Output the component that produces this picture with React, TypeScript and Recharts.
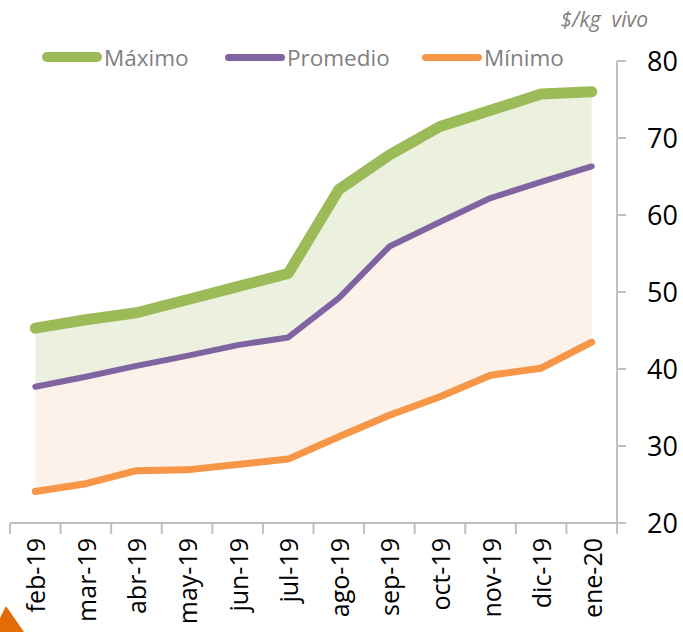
import React from 'react'
import { ComposedChart, Area, Line, XAxis, YAxis } from 'recharts'

const months = ['feb-19', 'mar-19', 'abr-19', 'may-19', 'jun-19', 'jul-19', 'ago-19', 'sep-19', 'oct-19', 'nov-19', 'dic-19', 'ene-20']
const maximo = [45.3, 46.4, 47.3, 49.0, 50.7, 52.4, 63.3, 67.8, 71.5, 73.6, 75.7, 76.0]
const promedio = [37.7, 39.0, 40.4, 41.7, 43.1, 44.1, 49.2, 55.9, 59.1, 62.2, 64.3, 66.3]
const minimo = [24.1, 25.1, 26.8, 26.9, 27.6, 28.3, 31.2, 34.0, 36.4, 39.2, 40.1, 43.5]
const yTicks = [20, 30, 40, 50, 60, 70, 80]

const series = [
  { key: 'max', name: 'Máximo', color: '#9BBB59', width: 11 },
  { key: 'prom', name: 'Promedio', color: '#8064A2', width: 6 },
  { key: 'min', name: 'Mínimo', color: '#F79646', width: 7 },
]

// band edges (integers) get a tick mark, band centres get the month label
const xTicks: number[] = []
for (let i = 0; i <= months.length; i++) {
  xTicks.push(i)
  if (i < months.length) xTicks.push(i + 0.5)
}

const data = months.map((m, i) => ({
  pos: i + 0.5,
  month: m,
  max: maximo[i],
  prom: promedio[i],
  min: minimo[i],
  upperBand: [promedio[i], maximo[i]],
  lowerBand: [minimo[i], promedio[i]],
}))

const FONT = '"Open Sans", sans-serif'
const AXIS = '#BFBFBF'

function MonthTick(props: any) {
  const { x, y, payload } = props
  const v = payload.value
  if (Number.isInteger(v)) {
    return <line x1={x} x2={x} y1={y} y2={y + 11} stroke={AXIS} strokeWidth={2} />
  }
  const ty = y + 15
  return (
    <text
      x={x}
      y={ty}
      transform={`rotate(-90 ${x} ${ty})`}
      textAnchor="end"
      dominantBaseline="central"
      fontFamily={FONT}
      fontSize={25}
      fill="#000"
    >
      {months[Math.floor(v)]}
    </text>
  )
}

const legendPos = [42, 225, 422]

export default function App() {
  return (
    <div style={{ position: 'absolute', left: 0, top: 0, width: 683, height: 632, background: '#fff' }}>
      <ComposedChart width={683} height={632} data={data} margin={{ top: 61, right: 0, bottom: 0, left: 10 }}>
        <XAxis
          dataKey="pos"
          type="number"
          domain={[0, months.length]}
          ticks={xTicks}
          interval={0}
          tickLine={false}
          tickSize={0}
          tickMargin={0}
          height={109}
          axisLine={{ stroke: AXIS, strokeWidth: 2 }}
          tick={<MonthTick />}
        />
        <YAxis
          orientation="right"
          domain={[20, 80]}
          ticks={yTicks}
          interval={0}
          width={66}
          tickSize={9}
          tickMargin={21}
          axisLine={{ stroke: AXIS, strokeWidth: 2 }}
          tickLine={{ stroke: AXIS, strokeWidth: 2 }}
          tick={{ fill: '#000', fontSize: 27, fontFamily: FONT }}
        />
        <Area dataKey="lowerBand" stroke="none" fill="#FDF2EA" fillOpacity={1} isAnimationActive={false} />
        <Area dataKey="upperBand" stroke="none" fill="#EBF1DE" fillOpacity={1} isAnimationActive={false} />
        {series.slice().reverse().map((s) => (
          <Line
            key={s.key}
            dataKey={s.key}
            stroke={s.color}
            strokeWidth={s.width}
            strokeLinecap="round"
            strokeLinejoin="round"
            dot={false}
            activeDot={false}
            type="linear"
            isAnimationActive={false}
          />
        ))}
      </ComposedChart>

      {series.map((s, i) => (
        <div
          key={s.key}
          style={{ position: 'absolute', left: legendPos[i], top: 42, height: 30, display: 'flex', alignItems: 'center', fontFamily: FONT, fontSize: 22.5, color: '#7F7F7F' }}
        >
          <span style={{ display: 'inline-block', width: 60, height: i === 0 ? 10 : 7, borderRadius: 5, background: s.color }} />
          <span style={{ marginLeft: 2 }}>{s.name}</span>
        </div>
      ))}

      <div style={{ position: 'absolute', right: 35, top: 5, fontFamily: FONT, fontSize: 21, fontStyle: 'italic', color: '#7F7F7F', whiteSpace: 'pre' }}>
        {'$/kg  vivo'}
      </div>

      <svg style={{ position: 'absolute', left: 0, top: 600 }} width={30} height={32}>
        <polygon points="0,18 6,6 24,32 0,32" fill="#E36C09" />
      </svg>
    </div>
  )
}
